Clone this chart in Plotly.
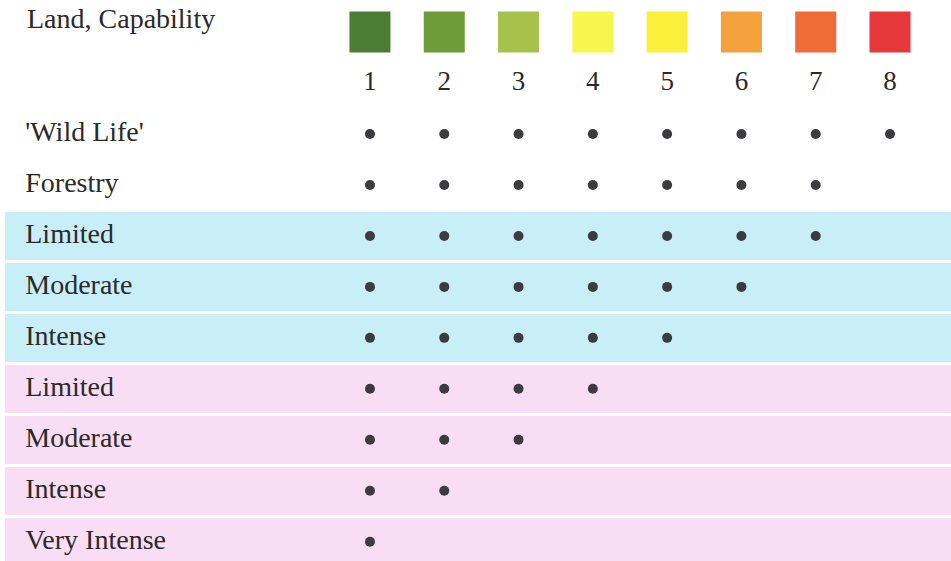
import plotly.graph_objects as go

# ---- data ----
title_text = "Land, Capability"
classes = [1, 2, 3, 4, 5, 6, 7, 8]
class_colors = ["#4b7d36", "#6e9c38", "#a6c24a", "#f6f74c", "#fbef3c", "#f5a13e", "#ef6b38", "#e5383a"]
row_labels = ["'Wild Life'", "Forestry", "Limited", "Moderate", "Intense",
              "Limited", "Moderate", "Intense", "Very Intense"]
row_groups = ["none", "none", "blue", "blue", "blue", "pink", "pink", "pink", "pink"]
max_class = [8, 7, 7, 6, 5, 4, 3, 2, 1]

group_colors = {"none": "rgba(0,0,0,0)", "blue": "#c8eef8", "pink": "#f8ddf4"}

FONT = "Liberation Serif"
TXT = "#2a2a2a"

fig = go.Figure()

# background bands (horizontal bars)
band_left = -3.91
band_right = 8.9
band_rows = [i for i, g in enumerate(row_groups) if g != "none"]
fig.add_trace(go.Bar(
    y=band_rows,
    x=[band_right - band_left] * len(band_rows),
    base=[band_left] * len(band_rows),
    orientation="h",
    width=0.94,
    marker=dict(color=[group_colors[row_groups[i]] for i in band_rows], line=dict(width=0)),
    hoverinfo="skip",
    showlegend=False,
))

# colour squares
fig.add_trace(go.Scatter(
    x=classes, y=[-2] * len(classes), mode="markers",
    marker=dict(symbol="square", size=41, color=class_colors, line=dict(width=0)),
    showlegend=False, hoverinfo="skip",
))

# class numbers
fig.add_trace(go.Scatter(
    x=classes, y=[-1] * len(classes), mode="text",
    text=[str(c) for c in classes],
    textfont=dict(family=FONT, size=27, color=TXT),
    showlegend=False, hoverinfo="skip",
))

# row labels
label_x = -3.64
fig.add_trace(go.Scatter(
    x=[label_x] * len(row_labels), y=list(range(len(row_labels))), mode="text",
    text=row_labels, textposition="middle right",
    textfont=dict(family=FONT, size=28, color=TXT),
    showlegend=False, hoverinfo="skip",
))

# dots
dx, dy = [], []
for i, m in enumerate(max_class):
    for c in classes:
        if c <= m:
            dx.append(c)
            dy.append(i)
fig.add_trace(go.Scatter(
    x=dx, y=dy, mode="markers",
    marker=dict(size=10, color="#3b3b40", line=dict(width=0)),
    showlegend=False, hoverinfo="skip",
))

# title
fig.add_annotation(
    x=label_x, y=-2.27, xref="x", yref="y", text=title_text, showarrow=False,
    xanchor="left", yanchor="middle",
    font=dict(family=FONT, size=28, color=TXT),
)

fig.update_layout(
    width=951, height=561,
    margin=dict(l=0, r=0, t=0, b=0),
    paper_bgcolor="white", plot_bgcolor="white",
    bargap=0,
    xaxis=dict(range=[-3.98, 8.821], visible=False, fixedrange=True),
    yaxis=dict(range=[8.379, -2.63], visible=False, fixedrange=True),
)

fig.write_html("out.html", config={"displayModeBar": False},
               post_script="document.body.style.margin='0px';")
